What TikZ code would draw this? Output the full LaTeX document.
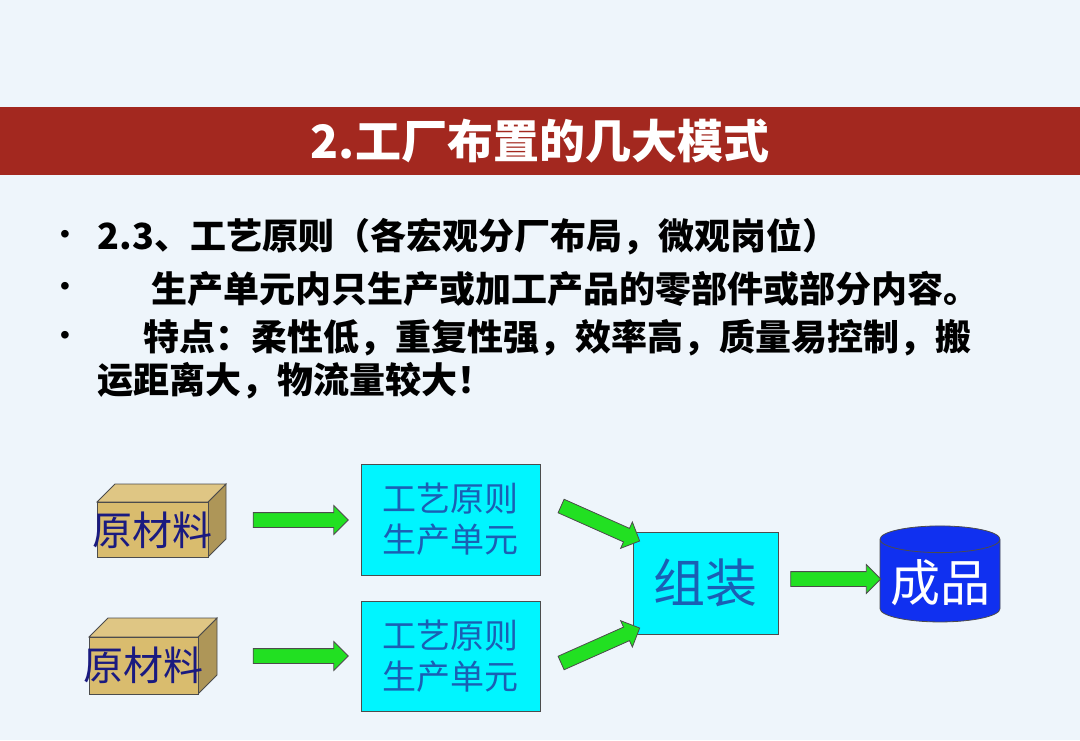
\documentclass[tikz,border=0pt]{standalone}
\usepackage{fontspec}
\setmainfont{Liberation Sans}
\newfontfamily\cjk{Noto Sans CJK SC}
\usetikzlibrary{shapes.geometric,shapes.arrows}
\definecolor{bg}{HTML}{EEF5FB}
\definecolor{band}{HTML}{A3281F}
\definecolor{boxtan}{HTML}{D9BC6E}
\definecolor{cellblue}{HTML}{1A5FB4}
\definecolor{navy}{HTML}{1A1A80}
\definecolor{aqua}{HTML}{00F5FF}
\definecolor{arrgreen}{HTML}{22E022}
\definecolor{prodblue}{HTML}{1030F0}
\tikzset{
 fat/.style={single arrow, draw=black!70, fill=arrgreen, line width=0.8pt, inner sep=7pt, single arrow head extend=7pt, single arrow tip angle=90, minimum height=#1},
 cell/.style={draw=black!70, fill=aqua, line width=1pt, font=\cjk\fontsize{34}{41}\selectfont, text=cellblue, align=center},
 bt/.style={anchor=west, font=\cjk\bfseries\fontsize{36}{40}\selectfont},
 dot/.style={font=\fontsize{28}{30}\selectfont}
}
\newcommand{\crate}[5]{% x1 ytop x2 ybot depth
 \filldraw[fill=boxtan!80!black,draw=black!70,line width=0.8pt] (#3,#2)--(#3+#5,#2-#5)--(#3+#5,#4-#5)--(#3,#4)--cycle;
 \filldraw[fill=boxtan!85!white,draw=black!70,line width=0.8pt] (#1,#2)--(#1+#5,#2-#5)--(#3+#5,#2-#5)--(#3,#2)--cycle;
 \filldraw[fill=boxtan,draw=black!70,line width=0.8pt] (#1,#2) rectangle (#3,#4);
}
\begin{document}
\begin{tikzpicture}[x=1pt,y=-1pt]
\fill[bg] (0,0) rectangle (1080,740);
\useasboundingbox (0,0) rectangle (1080,740);
\fill[band] (0,107) rectangle (1080,175);
\node[text=white, font=\cjk\bfseries\fontsize{46}{50}\selectfont] (title) at (540,141) {2.工厂布置的几大模式};
\node[dot] (d1) at (65,237) {•};
\node[dot] (d2) at (65,289) {•};
\node[dot] (d3) at (65,338) {•};
\node[bt] (t1) at (94,237) {2.3、工艺原则（各宏观分厂布局，微观岗位）};
\node[bt] (t2) at (148,289) {生产单元内只生产或加工产品的零部件或部分内容。};
\node[bt] (t3) at (140,338) {特点：柔性低，重复性强，效率高，质量易控制，搬};
\node[bt] (t4) at (94,381) {运距离大，物流量较大！};
\crate{97}{502}{208}{557}{18}
\crate{89}{637}{198}{694}{19}
\node[text=navy, font=\cjk\fontsize{40}{44}\selectfont] (m1) at (152,530) {原材料};
\node[text=navy, font=\cjk\fontsize{40}{44}\selectfont] (m2) at (143,665) {原材料};
\node[cell, minimum width=179pt, minimum height=111pt] (c1) at (450.5,519.5) {工艺原则\\生产单元};
\node[cell, minimum width=179pt, minimum height=110pt] (c2) at (450.5,656) {工艺原则\\生产单元};
\node[cell, minimum width=145pt, minimum height=102pt, font=\cjk\fontsize{52}{56}\selectfont] (asm) at (705.5,583) {组装};
\node[cylinder, shape border rotate=90, aspect=0.25, draw=black!70, fill=prodblue, line width=0.8pt, minimum width=120pt, minimum height=96pt, text=white, font=\cjk\fontsize{50}{54}\selectfont] (prod) at (940,583) {成品};
\node[fat=95pt] (a1) at (297,520) {};
\node[fat=95pt] (a2) at (297,656) {};
\node[fat=86pt, rotate=-24] (a3) at (597,522) {};
\node[fat=86pt, rotate=24] (a4) at (597,647) {};
\node[fat=90pt] (a5) at (832,579) {};
\end{tikzpicture}
\end{document}
